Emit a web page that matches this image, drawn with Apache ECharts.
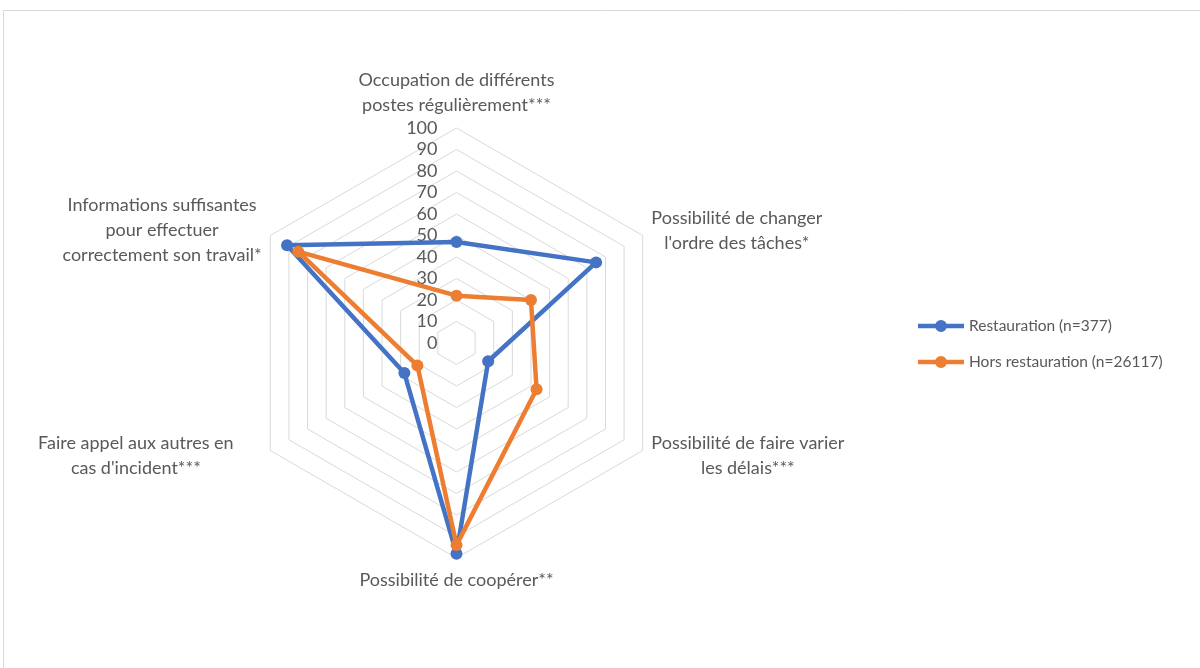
<!DOCTYPE html>
<html><head><meta charset="utf-8">
<script src="https://cdn.jsdelivr.net/npm/echarts@6/dist/echarts.min.js"></script>
<style>html,body{margin:0;padding:0;background:#fff}#c{width:1200px;height:668px}</style>
</head><body><div id="c"></div>
<script>
// Categories listed clockwise starting from the top axis
const categories = [
  "Occupation de différents\npostes régulièrement***",
  "Possibilité de changer\nl'ordre des tâches*",
  "Possibilité de faire varier\nles délais***",
  "Possibilité de coopérer**",
  "Faire appel aux autres en\ncas d'incident***",
  "Informations suffisantes\npour effectuer\ncorrectement son travail*"
];
const restauration = [47, 75, 17, 98, 28, 91];
const horsRestauration = [22, 40, 43, 94, 21, 85];
const seriesNames = ["Restauration (n=377)", "Hors restauration (n=26117)"];
const axisMin = 0, axisMax = 100, axisSplits = 10;

// ECharts lays indicators out counter-clockwise; reorder to get clockwise layout
const order = [0, 5, 4, 3, 2, 1];
const reorder = arr => order.map(i => arr[i]);
const FONT = 'Lato';
const TXT = '#595959';
const FS = 18;
const LINE_ICON = 'path://M0,4 L46,4 L46,8.5 L0,8.5 Z M17,6.25 A6,6 0 1,1 29,6.25 A6,6 0 1,1 17,6.25 Z';

const indicators = reorder(categories).map((name, k) => {
  const ind = { name: name, min: axisMin, max: axisMax };
  if (k === 0) ind.axisLabel = { show: true };
  return ind;
});

const chart = echarts.init(document.getElementById('c'), null, { renderer: 'canvas' });
chart.setOption({
  animation: false,
  backgroundColor: '#ffffff',
  textStyle: { fontFamily: FONT },
  graphic: [{
    type: 'rect', silent: true, z: -10,
    shape: { x: 3.5, y: 10.5, width: 1400, height: 900 },
    style: { fill: 'none', stroke: '#d9d9d9', lineWidth: 1 }
  }],
  legend: {
    orient: 'vertical',
    left: 913, top: 313,
    itemWidth: 46, itemHeight: 12.5, itemGap: 20,
    textStyle: { color: TXT, fontSize: 15.5, fontFamily: FONT },
    data: seriesNames.map(n => ({ name: n, icon: LINE_ICON }))
  },
  radar: {
    center: [456.5, 343],
    radius: 215,
    startAngle: 90,
    shape: 'polygon',
    splitNumber: axisSplits,
    nameGap: 10,
    axisName: {
      color: TXT, fontSize: FS, fontFamily: FONT, lineHeight: 25,
      formatter: function (name) {
        const style = name.indexOf('Faire appel') === 0 ? 'p' : 'c';
        return name.split('\n').map(l => '{' + style + '|' + l + '}').join('\n');
      },
      rich: {
        c: { align: 'center', color: TXT, fontSize: FS, fontFamily: FONT, lineHeight: 25 },
        p: { align: 'center', color: TXT, fontSize: FS, fontFamily: FONT, lineHeight: 25, padding: [0, 28, 0, 0] }
      }
    },
    axisLine: { show: false },
    axisTick: { show: false },
    axisLabel: { show: false, color: TXT, fontSize: FS, fontFamily: FONT, margin: 19 },
    splitLine: { lineStyle: { color: '#d9d9d9', width: 1 } },
    splitArea: { show: false },
    indicator: indicators
  },
  series: [{
    type: 'radar',
    symbol: 'circle',
    symbolSize: 12,
    lineStyle: { width: 4.5 },
    data: [
      { name: seriesNames[0], value: reorder(restauration),
        itemStyle: { color: '#4472C4' }, lineStyle: { color: '#4472C4', width: 4.5 } },
      { name: seriesNames[1], value: reorder(horsRestauration),
        itemStyle: { color: '#ED7D31' }, lineStyle: { color: '#ED7D31', width: 4.5 } }
    ]
  }]
});
</script></body></html>
